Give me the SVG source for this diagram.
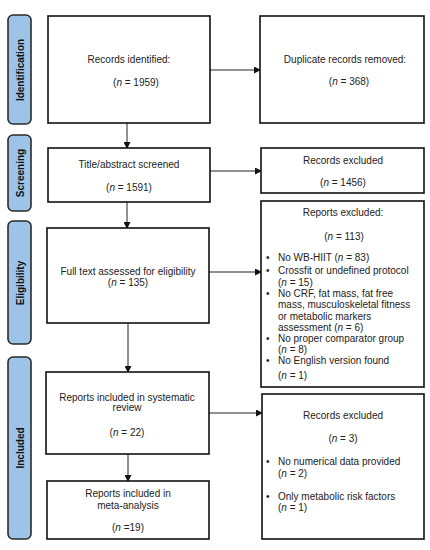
<svg xmlns="http://www.w3.org/2000/svg" width="430" height="550" viewBox="0 0 430 550">
<style>
.phase{fill:#9dc3e6;stroke:#2b2b2b;stroke-width:1.6}
.ph{font-family:"Liberation Sans",Arial,sans-serif;font-size:10px;font-weight:bold;fill:#111;text-anchor:middle;dominant-baseline:central}
.box{fill:#fff;stroke:#111;stroke-width:1.6}
.t{font-family:"Liberation Sans",Arial,sans-serif;font-size:10px;fill:#222}
.c{text-anchor:middle}
.conn{stroke:#222;stroke-width:1;fill:none}
</style>
<defs>
<marker id="ah" markerWidth="7" markerHeight="7" refX="6" refY="3.5" orient="auto" markerUnits="userSpaceOnUse">
<path d="M0,0 L7,3.5 L0,7 Z" fill="#111"/>
</marker>
</defs>
<rect width="430" height="550" fill="#fff"/>
<g id="phase-identification"><rect class="phase" x="8" y="15" width="23" height="109" rx="5"/><text class="ph" transform="translate(20,70) rotate(-90)">Identification</text></g>
<g id="phase-screening"><rect class="phase" x="8" y="135" width="23" height="76" rx="5"/><text class="ph" transform="translate(20,173) rotate(-90)">Screening</text></g>
<g id="phase-eligibility"><rect class="phase" x="8" y="221" width="23" height="123" rx="5"/><text class="ph" transform="translate(20,283) rotate(-90)">Eligibility</text></g>
<g id="phase-included"><rect class="phase" x="8" y="357" width="23" height="182" rx="5"/><text class="ph" transform="translate(20,448) rotate(-90)">Included</text></g>

<g id="connectors">
<line class="conn" x1="210" y1="70" x2="260" y2="70" marker-end="url(#ah)"/>
<line class="conn" x1="127" y1="123" x2="127" y2="148" marker-end="url(#ah)"/>
<line class="conn" x1="210" y1="171" x2="261" y2="171" marker-end="url(#ah)"/>
<line class="conn" x1="127" y1="202" x2="127" y2="228" marker-end="url(#ah)"/>
<line class="conn" x1="209" y1="272" x2="261" y2="272" marker-end="url(#ah)"/>
<line class="conn" x1="128" y1="323" x2="128" y2="372" marker-end="url(#ah)"/>
<line class="conn" x1="209" y1="413" x2="262" y2="413" marker-end="url(#ah)"/>
<line class="conn" x1="128" y1="454" x2="128" y2="481" marker-end="url(#ah)"/>
</g>

<g id="records-identified"><rect class="box" x="48" y="16" width="162" height="107"/>
<text class="t c" x="129" y="63">Records identified:</text>
<text class="t c" x="136" y="86">(<tspan font-style="italic">n</tspan> = 1959)</text></g>

<g id="duplicates"><rect class="box" x="260" y="16" width="164" height="107"/>
<text class="t c" x="345" y="63">Duplicate records removed:</text>
<text class="t c" x="349" y="85">(<tspan font-style="italic">n</tspan> = 368)</text></g>

<g id="screened"><rect class="box" x="48" y="148" width="162" height="54"/>
<text class="t c" x="129" y="168">Title/abstract screened</text>
<text class="t c" x="129" y="191">(<tspan font-style="italic">n</tspan> = 1591)</text></g>

<g id="records-excluded-1"><rect class="box" x="261" y="148" width="163" height="45"/>
<text class="t c" x="343" y="164">Records excluded</text>
<text class="t c" x="343" y="186">(<tspan font-style="italic">n</tspan> = 1456)</text></g>

<g id="full-text"><rect class="box" x="47" y="228" width="162" height="95"/>
<text class="t c" x="128" y="275">Full text assessed for eligibility</text>
<text class="t c" x="128" y="286">(<tspan font-style="italic">n</tspan> = 135)</text></g>

<g id="reports-excluded"><rect class="box" x="261" y="201" width="163" height="186"/>
<text class="t c" x="343" y="216">Reports excluded:</text>
<text class="t c" x="344" y="240">(<tspan font-style="italic">n</tspan> = 113)</text>
<g class="t">
<text x="266" y="261">•</text><text x="278" y="261">No WB-HIIT (<tspan font-style="italic">n</tspan>  = 83)</text>
<text x="266" y="274">•</text><text x="278" y="274">Crossfit or undefined protocol</text>
<text x="278" y="286">(<tspan font-style="italic">n</tspan> = 15)</text>
<text x="266" y="297">•</text><text x="278" y="297">No CRF, fat mass, fat free</text>
<text x="278" y="308">mass, musculoskeletal fitness</text>
<text x="278" y="320">or metabolic markers</text>
<text x="278" y="331">assessment (<tspan font-style="italic">n</tspan> = 6)</text>
<text x="266" y="342">•</text><text x="278" y="342">No proper comparator group</text>
<text x="278" y="353">(<tspan font-style="italic">n</tspan> = 8)</text>
<text x="266" y="364">•</text><text x="278" y="364">No English version found</text>
<text x="278" y="379">(<tspan font-style="italic">n</tspan> = 1)</text>
</g></g>

<g id="reports-included"><rect class="box" x="46" y="372" width="163" height="82"/>
<text class="t c" x="127" y="401">Reports included in systematic</text>
<text class="t c" x="127" y="411">review</text>
<text class="t c" x="127" y="436">(<tspan font-style="italic">n</tspan> = 22)</text></g>

<g id="records-excluded-2"><rect class="box" x="262" y="394" width="162" height="145"/>
<text class="t c" x="343" y="419">Records excluded</text>
<text class="t c" x="343" y="442">(<tspan font-style="italic">n</tspan> = 3)</text>
<g class="t">
<text x="266" y="465">•</text><text x="278" y="465">No numerical data provided</text>
<text x="278" y="477">(<tspan font-style="italic">n</tspan> = 2)</text>
<text x="266" y="500">•</text><text x="278" y="500">Only metabolic risk factors</text>
<text x="278" y="511">(<tspan font-style="italic">n</tspan> = 1)</text>
</g></g>

<g id="meta-analysis"><rect class="box" x="47" y="481" width="162" height="58"/>
<text class="t c" x="128" y="497">Reports included in</text>
<text class="t c" x="128" y="509">meta-analysis</text>
<text class="t c" x="128" y="531">(<tspan font-style="italic">n</tspan> =19)</text></g>
</svg>
